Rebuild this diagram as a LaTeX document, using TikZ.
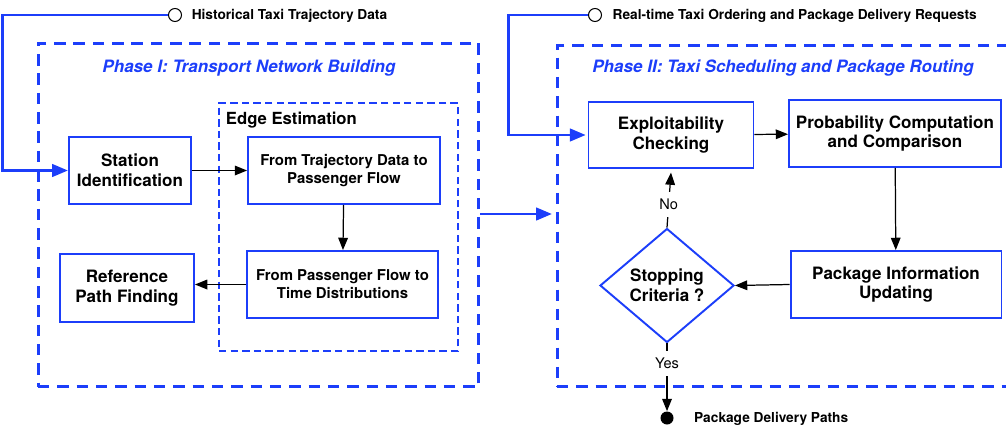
\documentclass[tikz,border=0pt]{standalone}
\usepackage{fontspec}
\setmainfont{TeX Gyre Heros}
\usepackage{tikz}
\usetikzlibrary{arrows.meta,shapes.geometric}
\definecolor{flowblue}{RGB}{28,62,250}

\begin{document}
\begin{tikzpicture}[x=0.02cm, y=-0.02cm,
        box/.style={draw=flowblue, line width=1.1pt, align=center, inner sep=2pt,
                    font=\fontsize{9.7}{11.3}\selectfont\bfseries},
        subbox/.style={box, font=\fontsize{8.5}{10.2}\selectfont\bfseries},
        decision/.style={diamond, draw=flowblue, line width=1.1pt, align=center, inner sep=0pt,
                    minimum width=2.68cm, minimum height=2.28cm,
                    font=\fontsize{9.7}{11.3}\selectfont\bfseries},
        phasebox/.style={draw=flowblue, line width=1.7pt, dash pattern=on 6.5pt off 4.5pt, inner sep=0pt},
        edgebox/.style={draw=flowblue, line width=0.9pt, dash pattern=on 4.2pt off 2.4pt, inner sep=0pt},
        phasetitle/.style={text=flowblue, font=\fontsize{9.7}{11}\selectfont\bfseries\itshape},
        source/.style={circle, draw, fill=white, line width=0.6pt, minimum size=0.26cm, inner sep=0pt},
        sink/.style={circle, fill=black, minimum size=0.26cm, inner sep=0pt},
        note/.style={anchor=base west, font=\fontsize{7.8}{9}\selectfont\bfseries},
        feed/.style={draw=flowblue, line width=1.7pt, -{Triangle[length=9pt, width=7pt]}},
        flow/.style={line width=0.7pt, -{Triangle[length=7pt, width=5.5pt]}},
        answer/.style={fill=white, inner sep=4pt, font=\fontsize{8.3}{9}\selectfont}]
        \useasboundingbox (0,0) rectangle (1006,429);
        \clip (0,0) rectangle (1006,429);

        % Phase I
        \node [phasebox, minimum width=8.82cm, minimum height=6.88cm] (phaseone) at (258.5,215) {};
        \node [phasetitle] (phaseonetitle) at (249,68) {Phase I: Transport Network Building};
        \node [edgebox, minimum width=4.78cm, minimum height=4.96cm] (edgeest) at (338.5,227) {};
        \node [anchor=base west, font=\fontsize{9.5}{11}\selectfont\bfseries] (edgetitle)
              at ([shift={(1.5,22)}]edgeest.north west) {Edge Estimation};

        \node [box, minimum width=2.44cm, minimum height=1.34cm] (station) at (130,170.5) {Station\\Identification};
        \node [subbox, minimum width=3.84cm, minimum height=1.34cm] (trajflow) at (344,170.5) {From Trajectory Data to\\Passenger Flow};
        \node [subbox, minimum width=3.82cm, minimum height=1.34cm] (flowtime) at (342.5,284.5) {From Passenger Flow to\\Time Distributions};
        \node [box, minimum width=2.68cm, minimum height=1.36cm] (refpath) at (127,288) {Reference\\Path Finding};

        % Phase II, runs on past the right edge
        \node [phasebox, minimum width=10cm, minimum height=6.82cm] (phasetwo) at (807,216) {};
        \node [phasetitle] (phasetwotitle) at (783,68) {Phase II: Taxi Scheduling and Package Routing};

        \node [box, minimum width=3.3cm, minimum height=1.32cm] (exploit) at (671,135) {Exploitability\\Checking};
        \node [box, minimum width=4.24cm, minimum height=1.34cm] (probcomp) at (895,133.5) {Probability Computation\\and Comparison};
        \node [box, minimum width=4.22cm, minimum height=1.34cm] (pkginfo) at (896,284.5) {Package Information\\Updating};
        \node [decision] (stopcrit) at (667,285.5) {Stopping\\Criteria ?};

        % inputs and output
        \node [source] (histdata) at (175,15) {};
        \node [note] at ([xshift=2pt, yshift=-2.6pt]histdata.east) {Historical Taxi Trajectory Data};
        \node [source] (requests) at (595,15) {};
        \node [note] at ([xshift=2.5pt, yshift=-2.6pt]requests.east) {Real-time Taxi Ordering and Package Delivery Requests};
        \node [sink] (paths) at (667,418) {};
        \node [note] at ([xshift=8pt, yshift=-2.6pt]paths.east) {Package Delivery Paths};

        % connectors
        \draw [feed] (histdata.west) -- ++(-165,0) |- (station.west);
        \draw [feed] (requests.west) -- ++(-79,0) |- ([xshift=-1pt]exploit.west);
        \draw [feed] (phaseone.east |- 0,214) -- ([xshift=-2pt]phasetwo.west |- 0,214);

        \draw [flow] (station) -- (trajflow);
        \draw [flow] (trajflow) -- (flowtime);
        \draw [flow] (flowtime.west) -- (flowtime.west -| refpath.east);
        \draw [flow] (exploit) -- (probcomp);
        \draw [flow] (probcomp) -- (pkginfo);
        \draw [flow] (pkginfo.west) -- (stopcrit.east);
        \draw [flow] (stopcrit.north) -- node [answer, pos=0.42] {No} ([yshift=-2pt]exploit.south);
        \draw [flow] (stopcrit.south) -- node [answer, pos=0.3] {Yes} (paths.north);
\end{tikzpicture}
\end{document}
